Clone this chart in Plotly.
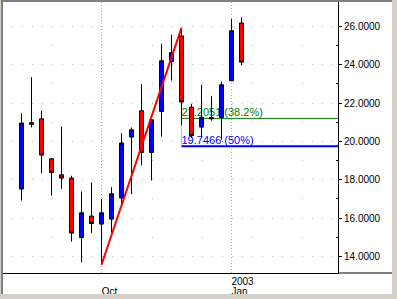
import pandas as pd
import plotly.graph_objects as go

# ---------------- data ----------------
dates = pd.date_range("2002-08-09", periods=23, freq="7D")  # weekly bars (week ending Friday)
opens = [17.52, 20.98, 21.18, 19.10, 18.26, 18.09, 14.99, 16.11, 15.69, 15.95, 17.05, 20.23,
         21.60, 19.43, 21.57, 24.17, 25.51, 21.79, 20.75, 21.25, 21.25, 23.17, 26.18]
highs = [21.48, 23.36, 21.60, 19.12, 20.78, 18.21, 17.39, 17.86, 17.00, 17.62, 20.44, 20.73,
         23.01, 21.16, 25.10, 25.57, 25.93, 21.97, 22.96, 22.38, 23.13, 26.40, 26.47]
lows = [16.92, 20.73, 18.35, 17.18, 17.53, 14.78, 13.69, 15.22, 13.57, 15.25, 16.65, 17.26,
        18.75, 17.97, 20.26, 23.18, 20.87, 20.18, 20.26, 21.08, 20.09, 23.15, 23.97]
closes = [20.96, 20.90, 19.29, 18.38, 18.09, 15.22, 16.28, 15.72, 16.28, 17.27, 19.92, 20.61,
          19.43, 21.13, 24.21, 24.64, 22.06, 20.31, 21.27, 21.18, 22.96, 25.78, 24.14]

trend_start, trend_end = 8, 16          # trendline: low of bar 8 -> high of bar 16
fib_levels = [21.2051, 19.7466]
fib_pcts = ["38.2%", "50%"]
month_tick_idx = [8, 21]
month_tick_text = ["Oct", "Jan"]
year_tick_idx = [21]
year_tick_text = ["2003"]

# ---------------- styling / layout constants ----------------
W, H = 397, 299
PL, PR, PT, PB = 3, 338, 2, 273          # plot area pixel box
FRAME_R, FRAME_B = 392, 294
FONT = "Liberation Sans, Arial, sans-serif"
GRID = "#b4b4b4"
BLUE, RED, GREEN = "#0000ff", "#ff0000", "#008000"

x_range = [dates[0] - pd.Timedelta(days=7 * 1.85), dates[0] + pd.Timedelta(days=7 * 31.65)]
y_range = [13.138, 27.278]

pw = PR - PL
ph = PB - PT
def px_x(p):
    return (p - PL) / pw
def px_y(p):
    return (PB - p) / ph

is_doji = [abs(o - c) < 0.1 for o, c in zip(opens, closes)]
reg = [i for i in range(len(dates)) if not is_doji[i]]
dj = [i for i in range(len(dates)) if is_doji[i]]

fig = go.Figure()
fig.add_trace(go.Candlestick(
    x=[dates[i] for i in reg], open=[opens[i] for i in reg], high=[highs[i] for i in reg],
    low=[lows[i] for i in reg], close=[closes[i] for i in reg],
    increasing=dict(line=dict(color="black", width=1), fillcolor=BLUE),
    decreasing=dict(line=dict(color="black", width=1), fillcolor=RED),
    whiskerwidth=0, showlegend=False, hoverinfo="skip"))
fig.add_trace(go.Candlestick(
    x=[dates[i] for i in dj], open=[opens[i] for i in dj], high=[highs[i] for i in dj],
    low=[lows[i] for i in dj], close=[closes[i] for i in dj],
    increasing=dict(line=dict(color="black", width=1), fillcolor="black"),
    decreasing=dict(line=dict(color="black", width=1), fillcolor="black"),
    whiskerwidth=0, showlegend=False, hoverinfo="skip"))
fig.add_trace(go.Scatter(
    x=[dates[trend_start], dates[trend_end]], y=[lows[trend_start], highs[trend_end]],
    mode="lines", line=dict(color=RED, width=2), showlegend=False, hoverinfo="skip"))
# invisible trace to activate xaxis2
fig.add_trace(go.Scatter(x=[dates[0]], y=[lows[0]], xaxis="x2", mode="markers",
                         marker=dict(opacity=0), showlegend=False, hoverinfo="skip"))

shapes = []
# fibonacci connector + levels (drawn beneath the candles)
shapes.append(dict(type="line", xref="x", yref="y", layer="between",
                   x0=dates[trend_end], x1=dates[trend_end], y0=highs[trend_end], y1=fib_levels[-1],
                   line=dict(color="#c0c0c0", width=1)))
for lvl, pct, col, w in zip(fib_levels, fib_pcts, [GREEN, BLUE], [1, 2]):
    shapes.append(dict(type="line", xref="x", yref="y", layer="between",
                       x0=dates[trend_end], x1=x_range[1], y0=lvl, y1=lvl,
                       line=dict(color=col, width=w),
                       label=dict(text=f"{lvl:.4f} ({pct})", textposition="start",
                                  xanchor="left", yanchor="bottom", padding=1,
                                  font=dict(color=col, size=11, family=FONT))))
# x axis line extension to the frame's right edge
shapes.append(dict(type="line", xref="paper", yref="paper", layer="above",
                   x0=1, x1=px_x(FRAME_R), y0=0, y1=0, line=dict(color="black", width=1)))
# window frame
shapes.append(dict(type="rect", xref="paper", yref="paper", layer="above",
                   x0=px_x(FRAME_R), x1=px_x(W + 2), y0=px_y(H + 2), y1=px_y(-2),
                   fillcolor="#d4d0c8", line=dict(width=0)))
shapes.append(dict(type="rect", xref="paper", yref="paper", layer="above",
                   x0=px_x(-2), x1=px_x(W + 2), y0=px_y(H + 2), y1=px_y(FRAME_B),
                   fillcolor="#d4d0c8", line=dict(width=0)))
shapes.append(dict(type="rect", xref="paper", yref="paper", layer="above",
                   x0=px_x(1), x1=px_x(PL), y0=px_y(FRAME_B), y1=px_y(0),
                   fillcolor="#808080", line=dict(width=0)))
shapes.append(dict(type="rect", xref="paper", yref="paper", layer="above",
                   x0=px_x(1), x1=px_x(FRAME_R), y0=px_y(PT), y1=px_y(0),
                   fillcolor="#808080", line=dict(width=0)))
shapes.append(dict(type="rect", xref="paper", yref="paper", layer="above",
                   x0=px_x(-2), x1=px_x(1), y0=px_y(FRAME_B), y1=px_y(-2),
                   fillcolor="#d4d0c8", line=dict(width=0)))

fig.update_layout(
    width=W, height=H,
    margin=dict(l=PL, r=W - PR, t=PT, b=H - PB),
    paper_bgcolor="white", plot_bgcolor="white",
    boxgap=0.6, boxgroupgap=0,
    showlegend=False,
    shapes=shapes,
    font=dict(family=FONT, size=10, color="black"),
    xaxis=dict(
        type="date", range=x_range, rangeslider=dict(visible=False),
        tickvals=[dates[i] for i in month_tick_idx], ticktext=month_tick_text,
        ticks="", showgrid=True, gridcolor=GRID, griddash="1px,2px", gridwidth=1,
        showline=True, linecolor="black", linewidth=1, zeroline=False,
        tickfont=dict(size=10), ticklabelshift=8, ticklabelstandoff=9),
    xaxis2=dict(
        type="date", overlaying="x", matches="x", side="bottom", anchor="y",
        tickvals=[dates[i] for i in year_tick_idx], ticktext=year_tick_text,
        ticks="", showgrid=False, showline=False, zeroline=False,
        tickfont=dict(size=10), ticklabelshift=11, ticklabelstandoff=1),
    yaxis=dict(
        side="right", range=y_range, tickmode="array",
        tickvals=[14, 16, 18, 20, 22, 24, 26],
        ticktext=[f"{v:.4f}" for v in [14, 16, 18, 20, 22, 24, 26]],
        ticks="outside", ticklen=3, tickcolor="black",
        showgrid=True, gridcolor=GRID, griddash="0px,8.5px,1px,0.5px", gridwidth=1,
        showline=True, linecolor="black", linewidth=1, zeroline=False,
        tickfont=dict(size=10),
        minor=dict(tickvals=[15, 17, 19, 21, 23, 25], ticks="inside", ticklen=2,
                   tickcolor="black", showgrid=True, gridcolor=GRID,
                   griddash="0px,48.5px,1px,0.5px")),
)

fig.write_html("out.html")
